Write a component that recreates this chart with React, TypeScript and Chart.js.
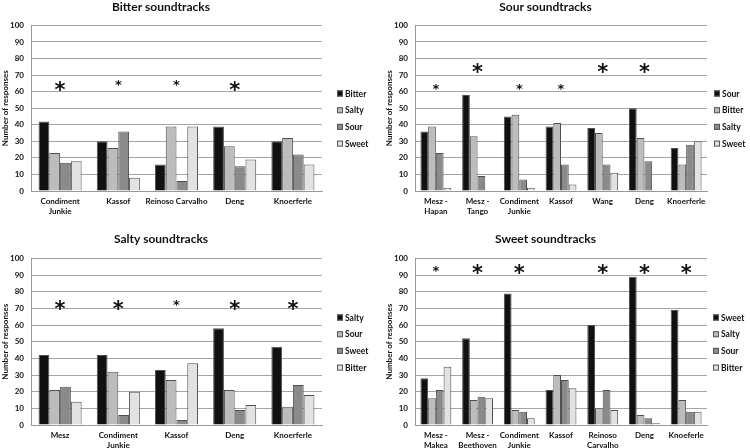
import React, { useEffect, useRef } from "react";
import { Chart, registerables } from "chart.js";

Chart.register(...registerables);

// ---------- Bitter panel ----------
const bitterCategories: (string | string[])[] = [["Condiment", "Junkie"], "Kassof", "Reinoso Carvalho", "Deng", "Knoerferle"];
const bitterSeries = ["Bitter", "Salty", "Sour", "Sweet"];
const bitterValues = [
  [42, 30, 16, 39, 30],
  [23, 26, 39, 27, 32],
  [17, 36, 6, 15, 22],
  [18, 8, 39, 19, 16],
];
const bitterStarY = [63, 65.5, 65.5, 63, null];
const bitterStarBig = [true, false, false, true, false];

// ---------- Sour panel ----------
const sourCategories: (string | string[])[] = [["Mesz -", "Hapan"], ["Mesz -", "Tango"], ["Condiment", "Junkie"], "Kassof", "Wang", "Deng", "Knoerferle"];
const sourSeries = ["Sour", "Bitter", "Salty", "Sweet"];
const sourValues = [
  [36, 58, 45, 39, 38, 50, 26],
  [39, 33, 46, 41, 35, 32, 16],
  [23, 9, 7, 16, 16, 18, 28],
  [2, 0, 2, 4, 11, 0, 30],
];
const sourStarY = [63, 73.5, 63, 63, 73.5, 73.5, null];
const sourStarBig = [false, true, false, false, true, true, false];

// ---------- Salty panel ----------
const saltyCategories: (string | string[])[] = ["Mesz", ["Condiment", "Junkie"], "Kassof", "Deng", "Knoerferle"];
const saltySeries = ["Salty", "Sour", "Sweet", "Bitter"];
const saltyValues = [
  [42, 42, 33, 58, 47],
  [21, 32, 27, 21, 11],
  [23, 6, 3, 9, 24],
  [14, 20, 37, 12, 18],
];
const saltyStarY = [71.5, 71.5, 73.5, 71.5, 71.5];
const saltyStarBig = [true, true, false, true, true];

// ---------- Sweet panel ----------
const sweetCategories: (string | string[])[] = [["Mesz -", "Makea"], ["Mesz -", "Beethoven"], ["Condiment", "Junkie"], "Kassof", ["Reinoso", "Carvalho"], "Deng", "Knoeferle"];
const sweetSeries = ["Sweet", "Salty", "Sour", "Bitter"];
const sweetValues = [
  [28, 52, 79, 21, 60, 89, 69],
  [16, 15, 9, 30, 10, 6, 15],
  [21, 17, 8, 27, 21, 4, 8],
  [35, 16, 4, 22, 9, 1, 8],
];
const sweetStarY = [94, 93, 93, null, 93, 93, 93];
const sweetStarBig = [false, true, true, false, true, true, true];

const yTicks = [0, 10, 20, 30, 40, 50, 60, 70, 80, 90, 100];

const seriesColors = ["#111111", "#bcbcbc", "#8a8a8a", "#e2e2e2"];
const FONT = "Lato, 'Open Sans', sans-serif";

type PanelProps = {
  title: string;
  categories: (string | string[])[];
  series: string[];
  values: number[][];
  starY: (number | null)[];
  starBig: boolean[];
  padLeft: number;
  padRight: number;
  titleTop: number;
  titleBottom: number;
  xAxisH: number;
  legendX: number;
  left: number;
  top: number;
};

const starPlugin = {
  id: "stars",
  afterDatasetsDraw(chart: any, _args: any, opts: any) {
    const { ctx, scales } = chart;
    const xs = scales.x;
    const ys = scales.y;
    const starY: (number | null)[] = opts.starY || [];
    const starBig: boolean[] = opts.starBig || [];
    ctx.save();
    ctx.fillStyle = "#111";
    ctx.textAlign = "center";
    ctx.textBaseline = "middle";
    starY.forEach((v, i) => {
      if (v === null || v === undefined) return;
      const size = starBig[i] ? 21 : 13;
      ctx.font = `bold ${size}px 'DejaVu Sans', sans-serif`;
      const x = xs.getPixelForValue(i);
      const y = ys.getPixelForValue(v);
      ctx.fillText("*", x, y + size * 0.22);
    });
    ctx.restore();
  },
};

const sideLegendPlugin = {
  id: "sideLegend",
  afterDraw(chart: any, _args: any, opts: any) {
    const { ctx } = chart;
    ctx.save();
    ctx.font = `bold 8.5px ${FONT}`;
    ctx.textAlign = "left";
    ctx.textBaseline = "middle";
    chart.data.datasets.forEach((ds: any, i: number) => {
      const y = opts.y0 + opts.step * i;
      const x = opts.x;
      ctx.fillStyle = ds.backgroundColor;
      ctx.fillRect(x, y - 3, 6, 6);
      ctx.strokeStyle = "#555";
      ctx.lineWidth = 1;
      ctx.strokeRect(x + 0.5, y - 2.5, 5, 5);
      ctx.fillStyle = "#111";
      ctx.fillText(ds.label, x + 8, y + 0.5);
    });
    ctx.restore();
  },
};

function Panel(p: PanelProps) {
  const ref = useRef<HTMLCanvasElement>(null);
  useEffect(() => {
    if (!ref.current) return;
    const chart = new Chart(ref.current, {
      type: "bar",
      data: {
        labels: p.categories,
        datasets: p.series.map((name, i) => ({
          label: name,
          data: p.values[i],
          backgroundColor: seriesColors[i],
          borderColor: "#505050",
          borderWidth: 1,
          borderSkipped: "bottom",
          categoryPercentage: 0.74,
          barPercentage: 1.0,
        })),
      },
      options: {
        responsive: false,
        animation: false,
        layout: { padding: { left: p.padLeft, right: p.padRight, top: 0, bottom: 0 } },
        plugins: {
          title: {
            display: true,
            text: p.title,
            font: { family: FONT, size: 12, weight: "bold" },
            color: "#111",
            padding: { top: p.titleTop, bottom: p.titleBottom },
          },
          legend: { display: false },
          tooltip: { enabled: false },
          // @ts-ignore
          stars: { starY: p.starY, starBig: p.starBig },
          // @ts-ignore
          sideLegend: { x: p.legendX, y0: 93.5, step: 16.7 },
        },
        scales: {
          x: {
            afterFit: (axis: any) => {
              axis.height = p.xAxisH;
            },
            grid: { display: false, drawTicks: false },
            border: { display: true, color: "#999", width: 1 },
            ticks: {
              color: "#111",
              font: { family: FONT, size: 8, weight: "bold" },
              maxRotation: 0,
              autoSkip: false,
              padding: 6,
            },
          },
          y: {
            min: 0,
            max: 100,
            afterFit: (axis: any) => {
              axis.width = 31;
            },
            afterBuildTicks: (axis: any) => {
              axis.ticks = yTicks.map((v) => ({ value: v }));
            },
            grid: { color: "#a5a5a5", lineWidth: 1, drawTicks: false },
            border: { display: true, color: "#999", width: 1 },
            ticks: {
              color: "#111",
              font: { family: FONT, size: 8, weight: "bold" },
              padding: 7,
            },
            title: {
              display: true,
              text: "Number of responses",
              color: "#111",
              font: { family: FONT, size: 8, weight: "bold" },
              padding: { top: 1, bottom: 0 },
            },
          },
        },
      },
      plugins: [starPlugin, sideLegendPlugin],
    } as any);
    return () => chart.destroy();
  }, []);
  return (
    <div style={{ position: "absolute", left: p.left, top: p.top, width: 375, height: 224 }}>
      <canvas ref={ref} width={375} height={224} style={{ width: 375, height: 224, display: "block" }} />
    </div>
  );
}

export default function App() {
  return (
    <div style={{ position: "fixed", left: 0, top: 0, width: 750, height: 448, background: "#fff" }}>
      <Panel title="Bitter soundtracks" categories={bitterCategories} series={bitterSeries} values={bitterValues} starY={bitterStarY} starBig={bitterStarBig} padLeft={0} padRight={53} titleTop={0} titleBottom={11} xAxisH={33} legendX={337} left={0} top={0} />
      <Panel title="Sour soundtracks" categories={sourCategories} series={sourSeries} values={sourValues} starY={sourStarY} starBig={sourStarBig} padLeft={9} padRight={43} titleTop={0} titleBottom={11} xAxisH={33} legendX={339} left={375} top={0} />
      <Panel title="Salty soundtracks" categories={saltyCategories} series={saltySeries} values={saltyValues} starY={saltyStarY} starBig={saltyStarBig} padLeft={0} padRight={53} titleTop={8} titleBottom={12} xAxisH={23} legendX={337} left={0} top={224} />
      <Panel title="Sweet soundtracks" categories={sweetCategories} series={sweetSeries} values={sweetValues} starY={sweetStarY} starBig={sweetStarBig} padLeft={9} padRight={43} titleTop={8} titleBottom={12} xAxisH={23} legendX={338} left={375} top={224} />
    </div>
  );
}
